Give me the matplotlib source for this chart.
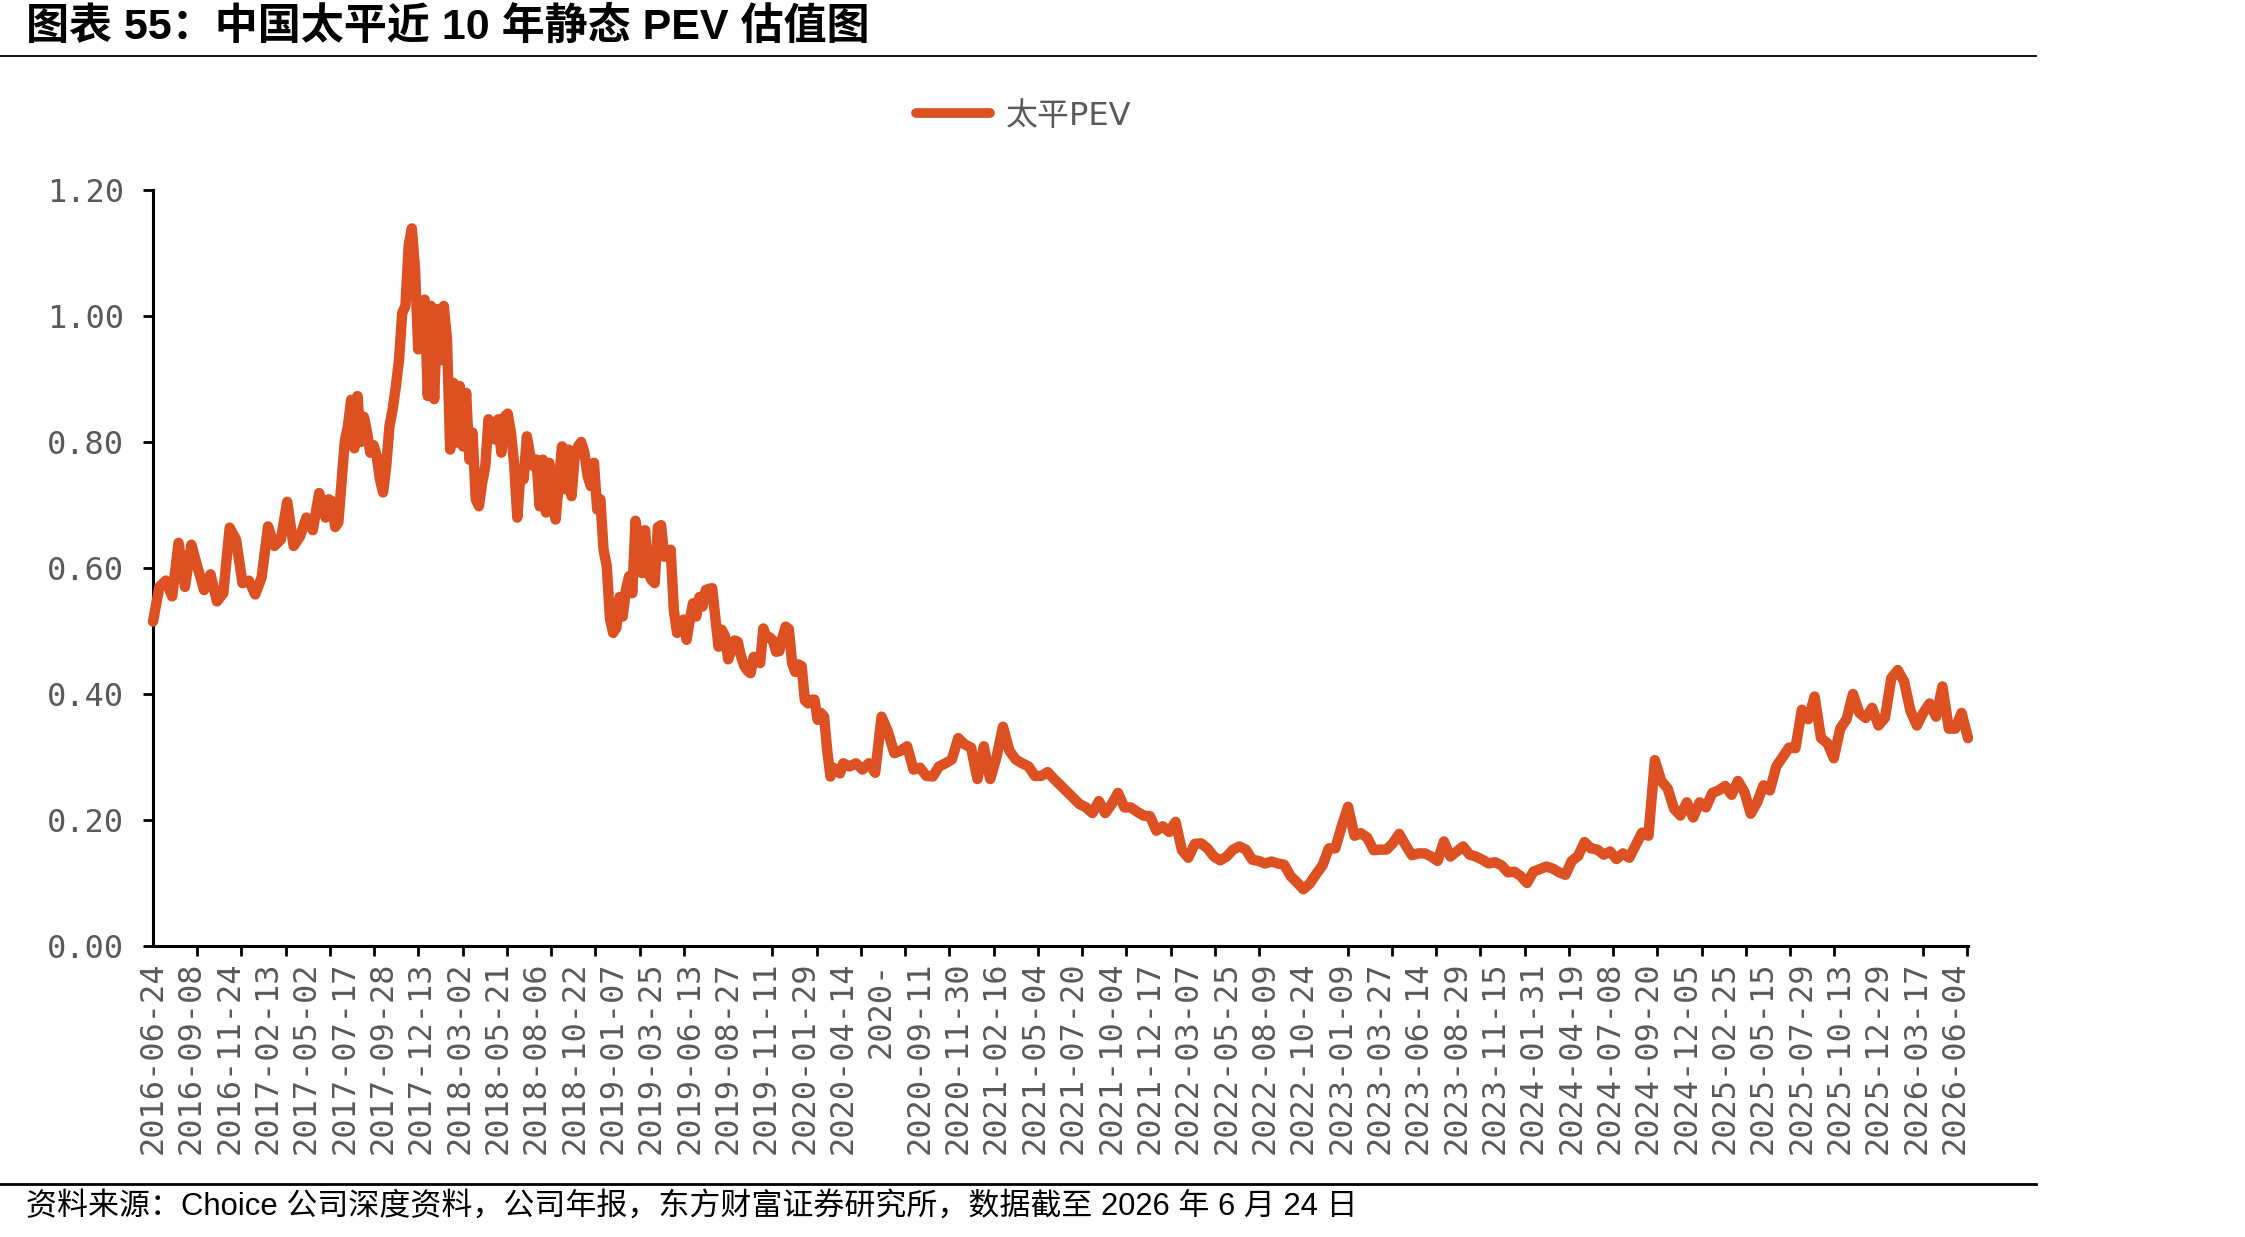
import numpy as np
import matplotlib
matplotlib.use("Agg")
import matplotlib.pyplot as plt
from matplotlib.lines import Line2D

# ---------------- data ----------------
title = "图表 55：中国太平近 10 年静态 PEV 估值图"
source = "资料来源：Choice 公司深度资料，公司年报，东方财富证券研究所，数据截至 2026 年 6 月 24 日"
series_name = "太平PEV"

tick_labels = [
    "2016-06-24", "2016-09-08", "2016-11-24", "2017-02-13", "2017-05-02", "2017-07-17",
    "2017-09-28", "2017-12-13", "2018-03-02", "2018-05-21", "2018-08-06", "2018-10-22",
    "2019-01-07", "2019-03-25", "2019-06-13", "2019-08-27", "2019-11-11", "2020-01-29",
    "2020-04-14", "2020-", "2020-09-11", "2020-11-30", "2021-02-16", "2021-05-04",
    "2021-07-20", "2021-10-04", "2021-12-17", "2022-03-07", "2022-05-25", "2022-08-09",
    "2022-10-24", "2023-01-09", "2023-03-27", "2023-06-14", "2023-08-29", "2023-11-15",
    "2024-01-31", "2024-04-19", "2024-07-08", "2024-09-20", "2024-12-05", "2025-02-25",
    "2025-05-15", "2025-07-29", "2025-10-13", "2025-12-29", "2026-03-17", "2026-06-04",
]
label_every = 52          # trading days between category labels
tick_every = 60           # trading days between tick marks

# readings, 6 per label interval, from 2016-06-24
pev_2016_2017 = [
    0.515, 0.57, 0.58, 0.555, 0.64, 0.57, 0.637, 0.60, 0.565, 0.59, 0.547, 0.56,
    0.664, 0.645, 0.576, 0.58, 0.558, 0.585, 0.666, 0.635, 0.645, 0.705, 0.635, 0.65,
    0.68, 0.66, 0.719,
]
# denser readings, 12 per label interval, from label 4.5 to label 18
pev_2017_2020 = [
    0.68, 0.709, 0.706, 0.665, 0.672, 0.735, 0.80, 0.825, 0.867, 0.79, 0.873, 0.80,
    0.84, 0.815, 0.783, 0.795, 0.778, 0.741, 0.72, 0.762, 0.825, 0.852, 0.888, 0.931,
    1.005, 1.016, 1.111, 1.139, 1.074, 0.947, 1.021, 1.026, 0.873, 1.016, 0.868, 1.011,
    0.93, 1.016, 0.963, 0.788, 0.894, 0.799, 0.889, 0.793, 0.878, 0.772, 0.815, 0.709,
    0.698, 0.735, 0.762, 0.836, 0.82, 0.804, 0.836, 0.783, 0.84, 0.845, 0.815, 0.767,
    0.68, 0.751, 0.741, 0.809, 0.78, 0.762, 0.772, 0.698, 0.772, 0.688, 0.767, 0.70,
    0.677, 0.735, 0.793, 0.725, 0.788, 0.714, 0.78, 0.793, 0.80, 0.783, 0.746, 0.73,
    0.767, 0.693, 0.709, 0.629, 0.603, 0.52, 0.497, 0.505, 0.554, 0.523, 0.565, 0.587,
    0.56, 0.675, 0.64, 0.592, 0.66, 0.592, 0.581, 0.576, 0.665, 0.668, 0.618, 0.624,
    0.629, 0.533, 0.497, 0.513, 0.518, 0.486, 0.518, 0.544, 0.523, 0.554, 0.539, 0.565,
    0.567, 0.568, 0.52, 0.475, 0.502, 0.492, 0.455, 0.47, 0.485, 0.483, 0.46, 0.445,
    0.437, 0.433, 0.459, 0.457, 0.449, 0.504, 0.49, 0.49, 0.485, 0.467, 0.468, 0.49,
    0.507, 0.503, 0.449, 0.435, 0.447, 0.444, 0.39, 0.385, 0.391, 0.391, 0.359, 0.37,
    0.364, 0.31, 0.269, 0.283, 0.278, 0.274, 0.29,
]
# readings, 6 per label interval, after label 18
pev_2020_2021 = [
    0.285, 0.29, 0.28, 0.29, 0.275, 0.364, 0.34, 0.306, 0.31, 0.317, 0.28, 0.283,
    0.27, 0.269, 0.285, 0.29, 0.296, 0.33, 0.32, 0.315, 0.265, 0.317, 0.265, 0.30,
    0.348, 0.31, 0.296, 0.29, 0.285, 0.27, 0.27, 0.276, 0.265, 0.255, 0.245, 0.235,
    0.225, 0.22,
]
pev_2021_2024 = [
    0.211, 0.23, 0.211, 0.225, 0.243, 0.22, 0.22, 0.213, 0.207, 0.206, 0.183, 0.19,
    0.181, 0.197, 0.152, 0.14, 0.162, 0.163, 0.155, 0.142, 0.136, 0.142, 0.153, 0.158,
    0.153, 0.137, 0.135, 0.131, 0.134, 0.131, 0.129, 0.111, 0.101, 0.09, 0.099, 0.114,
    0.128, 0.155, 0.155, 0.19, 0.221, 0.175, 0.179, 0.172, 0.152, 0.153, 0.153, 0.163,
    0.178, 0.16, 0.144, 0.147, 0.147, 0.142, 0.135, 0.166, 0.142, 0.15, 0.158, 0.145,
    0.142, 0.137, 0.131, 0.133, 0.128, 0.117, 0.118, 0.111, 0.10, 0.118, 0.122, 0.126,
    0.123, 0.117, 0.113,
]
pev_2024_2026 = [
    0.135, 0.143, 0.165, 0.155, 0.153, 0.145, 0.15, 0.138, 0.147, 0.14, 0.16, 0.18,
    0.175, 0.295, 0.262, 0.25, 0.218, 0.207, 0.228, 0.204, 0.228, 0.22, 0.243, 0.247,
    0.254, 0.24, 0.262, 0.245, 0.21, 0.228, 0.255, 0.247, 0.285, 0.30, 0.315, 0.314,
    0.375, 0.36, 0.396, 0.33, 0.322, 0.298, 0.345, 0.36, 0.40, 0.37, 0.362, 0.378,
    0.35, 0.362, 0.425, 0.438, 0.42, 0.373, 0.35, 0.37, 0.385, 0.364, 0.412, 0.345,
    0.345, 0.37, 0.33,
]
y_ticks = [0.0, 0.2, 0.4, 0.6, 0.8, 1.0, 1.2]

late = pev_2020_2021 + pev_2021_2024 + pev_2024_2026
pev = np.array(pev_2016_2017 + pev_2017_2020 + late)
x = np.concatenate([
    np.arange(len(pev_2016_2017)) * label_every / 6,
    4.5 * label_every + np.arange(len(pev_2017_2020)) * label_every / 12,
    18 * label_every + (1 + np.arange(len(late))) * label_every / 6,
])

# ---------------- style ----------------
W, H = 2245, 1237
LINE_COLOR = "#DC5021"
GRAY = "#595959"
CJK = ["Liberation Sans", "Noto Sans CJK SC"]

fig = plt.figure(figsize=(W / 100, H / 100), dpi=100)
ax_left, ax_right, ax_top, ax_bottom = 153, 1968, 190, 946
ax = fig.add_axes([ax_left / W, 1 - ax_bottom / H, (ax_right - ax_left) / W, (ax_bottom - ax_top) / H])

ax.plot(x, pev, color=LINE_COLOR, lw=7.5, solid_joinstyle="round", solid_capstyle="round",
        clip_on=False, zorder=3)
ax.set_xlim(0, x[-1])
ax.set_ylim(0, 1.2)

for s in ["top", "right"]:
    ax.spines[s].set_visible(False)
for s in ["left", "bottom"]:
    ax.spines[s].set_linewidth(2.2)
    ax.spines[s].set_color("black")

ax.set_yticks(y_ticks)
ax.set_yticklabels([f"{v:.2f}" for v in y_ticks], fontfamily="DejaVu Sans Mono",
                   fontsize=23, color=GRAY)
ax.tick_params(axis="y", which="major", length=7, width=2, direction="out", pad=14, color="black")

ax.set_xticks(np.arange(len(tick_labels)) * label_every)
ax.set_xticklabels(tick_labels, rotation=90, fontfamily="DejaVu Sans Mono", fontsize=23,
                   color=GRAY, va="top", ha="center")
ax.set_xticks(np.arange(0, x[-1] + 1, tick_every), minor=True)
ax.tick_params(axis="x", which="major", length=0, pad=11)
ax.tick_params(axis="x", which="minor", length=7, width=2, direction="out", color="black")

# legend
handle = Line2D([], [], color=LINE_COLOR, lw=7, solid_capstyle="round")
leg = fig.legend([handle], [series_name], loc="center",
                 bbox_to_anchor=(1023.5 / W, 1 - 116 / H), frameon=False,
                 handlelength=2.3, handletextpad=0.5,
                 prop={"family": ["DejaVu Sans", "Noto Sans CJK SC"], "size": 23})
for t in leg.get_texts():
    t.set_color(GRAY)

# title, rules and source
fig.text(26 / W, 1 - 28 / H, title, fontsize=31, fontweight="bold", family=CJK,
         ha="left", va="center", color="black")
fig.add_artist(Line2D([0, 2036 / W], [1 - 56 / H] * 2, color="black", lw=1.3,
                      transform=fig.transFigure))
fig.add_artist(Line2D([0, 2036 / W], [1 - 1184 / H] * 2, color="black", lw=2.0,
                      transform=fig.transFigure))
fig.text(26 / W, 1 - 1207 / H, source, fontsize=22.3, family=CJK,
         ha="left", va="center", color="black")

fig.savefig("out.png", dpi=100, facecolor="white")
